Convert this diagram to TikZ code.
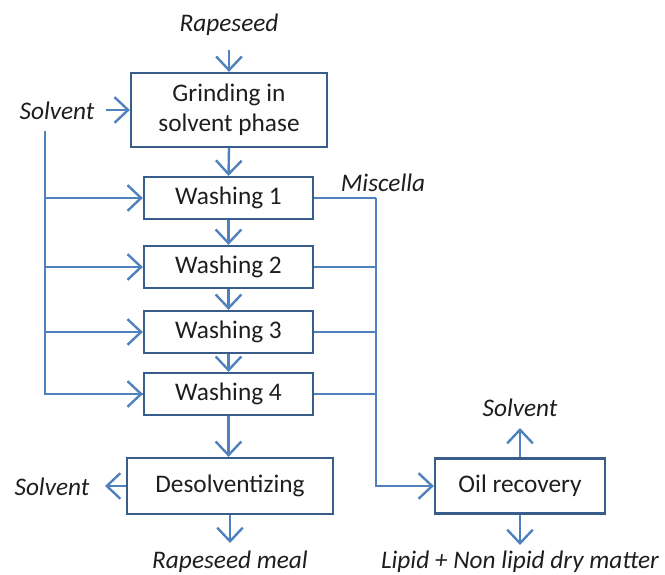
\documentclass[tikz,border=0pt]{standalone}
\usepackage{fontspec}
\setmainfont{Carlito}
\usetikzlibrary{arrows.meta}
\definecolor{flowline}{HTML}{4F81BD}
\definecolor{boxline}{HTML}{385D8A}
\definecolor{txt}{HTML}{1E1E1E}
\begin{document}
\begin{tikzpicture}[
    every node/.style={text=txt, font=\fontsize{18}{21}\selectfont},
    stage/.style={draw=boxline, line width=1.6pt, align=center, inner sep=0pt},
    stream/.style={font=\fontsize{18}{21}\selectfont\itshape},
    flow/.style={draw=flowline, line width=1.7pt},
    feed/.style={flow, -{Straight Barb[length=3.4mm,width=6.4mm,line width=1.7pt]}}
]
\useasboundingbox (0,0) rectangle (16.625,14.375);
\node[stream] (seed) at (5.725,13.75) {Rapeseed};
\node[stage, minimum width=4.9cm, minimum height=1.85cm] (grind) at (5.725,11.625) {Grinding in\\solvent phase};
\node[stage, minimum width=4.225cm, minimum height=1.05cm] (w1) at (5.7125,9.425) {Washing 1};
\node[stage, minimum width=4.225cm, minimum height=1.05cm] (w2) at (5.7125,7.7) {Washing 2};
\node[stage, minimum width=4.225cm, minimum height=1.05cm] (w3) at (5.7125,6.075) {Washing 3};
\node[stage, minimum width=4.225cm, minimum height=1.05cm] (w4) at (5.7125,4.525) {Washing 4};
\node[stage, minimum width=5.15cm, minimum height=1.4cm] (desolv) at (5.75,2.225) {Desolventizing};
\node[stage, minimum width=4.25cm, minimum height=1.375cm] (oil) at (13.0,2.225) {Oil recovery};
\node[stream] (solvtop) at (1.425,11.6) {Solvent};
\node[stream] (miscella) at (9.575,9.8) {Miscella};
\node[stream] (solvleft) at (1.3,2.2) {Solvent};
\node[stream] (solvright) at (13.0,4.175) {Solvent};
\node[stream] (meal) at (5.75,0.325) {Rapeseed meal};
\node[stream] (lipid) at (13.0,0.325) {Lipid + Non lipid dry matter};

\coordinate (seedout) at (5.725,13.125);
\coordinate (solvin) at (2.65,11.625);
\coordinate (rail) at (1.125,11.1);
\coordinate (misc) at (9.4,9.425);
\coordinate (solvout) at (2.625,2.225);
\coordinate (mealout) at (5.75,0.8);
\coordinate (upout) at (13.0,3.675);
\coordinate (downout) at (13.0,0.75);

\draw[feed] (seedout) -- (grind.north);
\draw[feed] (solvin) -- (grind.west);
\draw[feed] (grind.south) -- (w1.north);
\draw[feed] (w1.south) -- (w2.north);
\draw[feed] (w2.south) -- (w3.north);
\draw[feed] (w3.south) -- (w4.north);
\draw[feed] (w4.south) -- (w4.south |- desolv.north);
\draw[flow] (rail) |- (w4.west);
\foreach \w in {w1,w2,w3,w4}
    \draw[feed] (rail |- \w.west) -- (\w.west);
\draw[flow] (w1.east) -- (misc);
\foreach \w in {w2,w3,w4}
    \draw[flow] (\w.east) -- (misc |- \w.east);
\draw[feed] (misc) |- (oil.west);
\draw[feed] (desolv.west) -- (solvout);
\draw[feed] (desolv.south) -- (mealout);
\draw[feed] (oil.north) -- (upout);
\draw[feed] (oil.south) -- (downout);
\end{tikzpicture}
\end{document}
